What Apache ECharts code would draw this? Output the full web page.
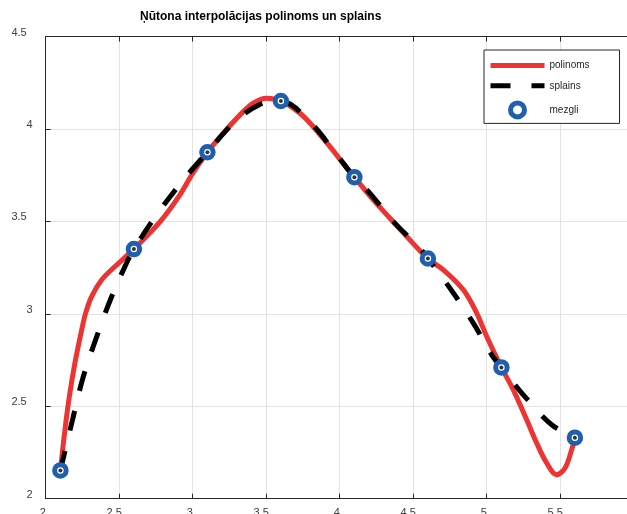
<!DOCTYPE html>
<html>
<head>
<meta charset="utf-8">
<script src="https://cdn.jsdelivr.net/npm/echarts@6/dist/echarts.min.js"></script>
<style>
  html, body { margin: 0; padding: 0; background: #fff; }
  #chart { width: 627px; height: 514px; }
</style>
</head>
<body>
<div id="chart"></div>
<script>
// ---- data ----
const titleText = 'Ņūtona interpolācijas polinoms un splains';
const seriesNames = ['polinoms', 'splains', 'mezgli'];

const nodeX = [2.1, 2.6, 3.1, 3.6, 4.1, 4.6, 5.1, 5.6];
const nodeY = [2.153, 3.35, 3.874, 4.151, 3.739, 3.299, 2.71, 2.33];

const polyX = [2.1, 2.131, 2.161, 2.199, 2.245, 2.272, 2.313, 2.381, 2.471, 2.6,
               2.78, 2.914, 3.0, 3.1, 3.208, 3.322, 3.412, 3.503, 3.6, 3.73, 3.82,
               3.934, 4.048, 4.1, 4.229, 4.342, 4.456, 4.6, 4.705, 4.841, 4.932,
               5.0, 5.1, 5.181, 5.272, 5.34, 5.408, 5.476, 5.533, 5.578, 5.6];
const polyY = [2.153, 2.373, 2.553, 2.735, 2.914, 3.005, 3.094, 3.184, 3.256, 3.35,
               3.50, 3.645, 3.76, 3.874, 3.977, 4.076, 4.139, 4.166, 4.151, 4.085, 4.012,
               3.904, 3.788, 3.739, 3.616, 3.517, 3.418, 3.299, 3.238, 3.130, 3.004,
               2.877, 2.71, 2.589, 2.427, 2.301, 2.193, 2.130, 2.166, 2.265, 2.33];

const splineX = [2.1, 2.188, 2.256, 2.347, 2.449, 2.555, 2.6, 2.75, 2.936, 3.1,
                 3.276, 3.45, 3.6, 3.8, 3.98, 4.1, 4.206, 4.365, 4.546, 4.6,
                 4.75, 4.909, 5.034, 5.1, 5.249, 5.442, 5.6];
const splineY = [2.153, 2.445, 2.661, 2.877, 3.094, 3.283, 3.35, 3.53, 3.724, 3.874,
                 4.031, 4.13, 4.151, 4.035, 3.86, 3.739, 3.652, 3.499, 3.355, 3.299,
                 3.139, 2.95, 2.778, 2.71, 2.562, 2.40, 2.33];

const xMin = 2, xMax = 6, xStep = 0.5;
const yMin = 2, yMax = 4.5, yStep = 0.5;

// ---- build ----
const zip = (a, b) => a.map((v, i) => [v, b[i]]);
const axisColor = '#262626';
const labelColor = '#404040';
const gridColor = '#e3e3e3';
const redColor = '#ee3333';
const blueColor = '#1f5fae';
const dashPattern = [20, 21];
const fontFam = '"Liberation Sans", Arial, Helvetica, sans-serif';

const chart = echarts.init(document.getElementById('chart'), null, { renderer: 'canvas' });

const decLabel = v => (Number.isInteger(v) ? '{i|' + v + '}' : '{d|' + v + '}');

chart.setOption({
  animation: false,
  backgroundColor: '#ffffff',
  title: {
    text: titleText,
    left: 140, top: 11, padding: 0,
    textStyle: { fontFamily: fontFam, fontSize: 12, fontWeight: 'bold', color: '#000' }
  },
  grid: { left: 45.7, top: 36.5, width: 588, height: 462.2, containLabel: false, outerBoundsMode: 'none' },
  legend: {
    data: [
      { name: seriesNames[0], itemStyle: { opacity: 0 }, lineStyle: { color: redColor, width: 5 } },
      { name: seriesNames[1], itemStyle: { opacity: 0 }, lineStyle: { color: '#000', width: 5, type: dashPattern } },
      { name: seriesNames[2], itemStyle: { color: '#fff', borderColor: blueColor, borderWidth: 5 } }
    ],
    orient: 'vertical',
    left: 484, top: 50,
    padding: [10, 30, 4, 4],
    itemWidth: 54, itemHeight: 14, itemGap: 9,
    backgroundColor: '#fff',
    borderColor: axisColor, borderWidth: 1,
    textStyle: { fontFamily: fontFam, fontSize: 10, color: axisColor }
  },
  xAxis: [{
    type: 'value', min: xMin, max: xMax, interval: xStep,
    axisLine: { show: true, onZero: false, lineStyle: { color: axisColor, width: 1 } },
    axisTick: { show: true, inside: true, length: 5, lineStyle: { color: axisColor } },
    splitLine: { show: true, lineStyle: { color: gridColor, width: 1 } },
    axisLabel: {
      margin: 9, fontFamily: fontFam, fontSize: 11, color: labelColor,
      verticalAlign: 'top', showMaxLabel: true, formatter: decLabel,
      rich: { i: { fontFamily: fontFam, fontSize: 11, color: labelColor, padding: [0, 6, 0, 0] },
              d: { fontFamily: fontFam, fontSize: 11, color: labelColor, padding: [0, 10, 0, 0] } }
    }
  }, {
    type: 'value', position: 'top', min: xMin, max: xMax, interval: xStep,
    axisLine: { show: true, onZero: false, lineStyle: { color: axisColor, width: 1 } },
    axisTick: { show: true, inside: true, length: 5, lineStyle: { color: axisColor } },
    splitLine: { show: false },
    axisLabel: { show: false }
  }],
  yAxis: {
    type: 'value', min: yMin, max: yMax, interval: yStep,
    axisLine: { show: true, onZero: false, lineStyle: { color: axisColor, width: 1 } },
    axisTick: { show: true, inside: true, length: 5, lineStyle: { color: axisColor } },
    splitLine: { show: true, lineStyle: { color: gridColor, width: 1 } },
    axisLabel: {
      margin: 13, fontFamily: fontFam, fontSize: 11, color: labelColor,
      formatter: decLabel,
      rich: { i: { fontFamily: fontFam, fontSize: 11, color: labelColor, padding: [0, 0, 8, 0] },
              d: { fontFamily: fontFam, fontSize: 11, color: labelColor, padding: [0, 6, 8, 0] } }
    }
  },
  series: [{
    name: seriesNames[0], type: 'line', data: zip(polyX, polyY),
    smooth: 0.35, showSymbol: false, symbol: 'none', z: 2,
    lineStyle: { color: redColor, width: 5 },
    itemStyle: { color: redColor }
  }, {
    name: seriesNames[1], type: 'line', data: zip(splineX, splineY),
    smooth: 0.35, showSymbol: false, symbol: 'none', z: 3,
    lineStyle: { color: '#000', width: 5, type: dashPattern },
    itemStyle: { color: '#000' }
  }, {
    name: seriesNames[2], type: 'scatter', data: zip(nodeX, nodeY),
    symbol: 'circle', symbolSize: 11.5, z: 4,
    itemStyle: { color: '#ffffff', borderColor: blueColor, borderWidth: 5, opacity: 1 }
  }, {
    name: 'centres', type: 'scatter', data: zip(nodeX, nodeY),
    symbol: 'circle', symbolSize: 4, z: 5, silent: true,
    itemStyle: { color: '#000' }
  }]
});
</script>
</body>
</html>
